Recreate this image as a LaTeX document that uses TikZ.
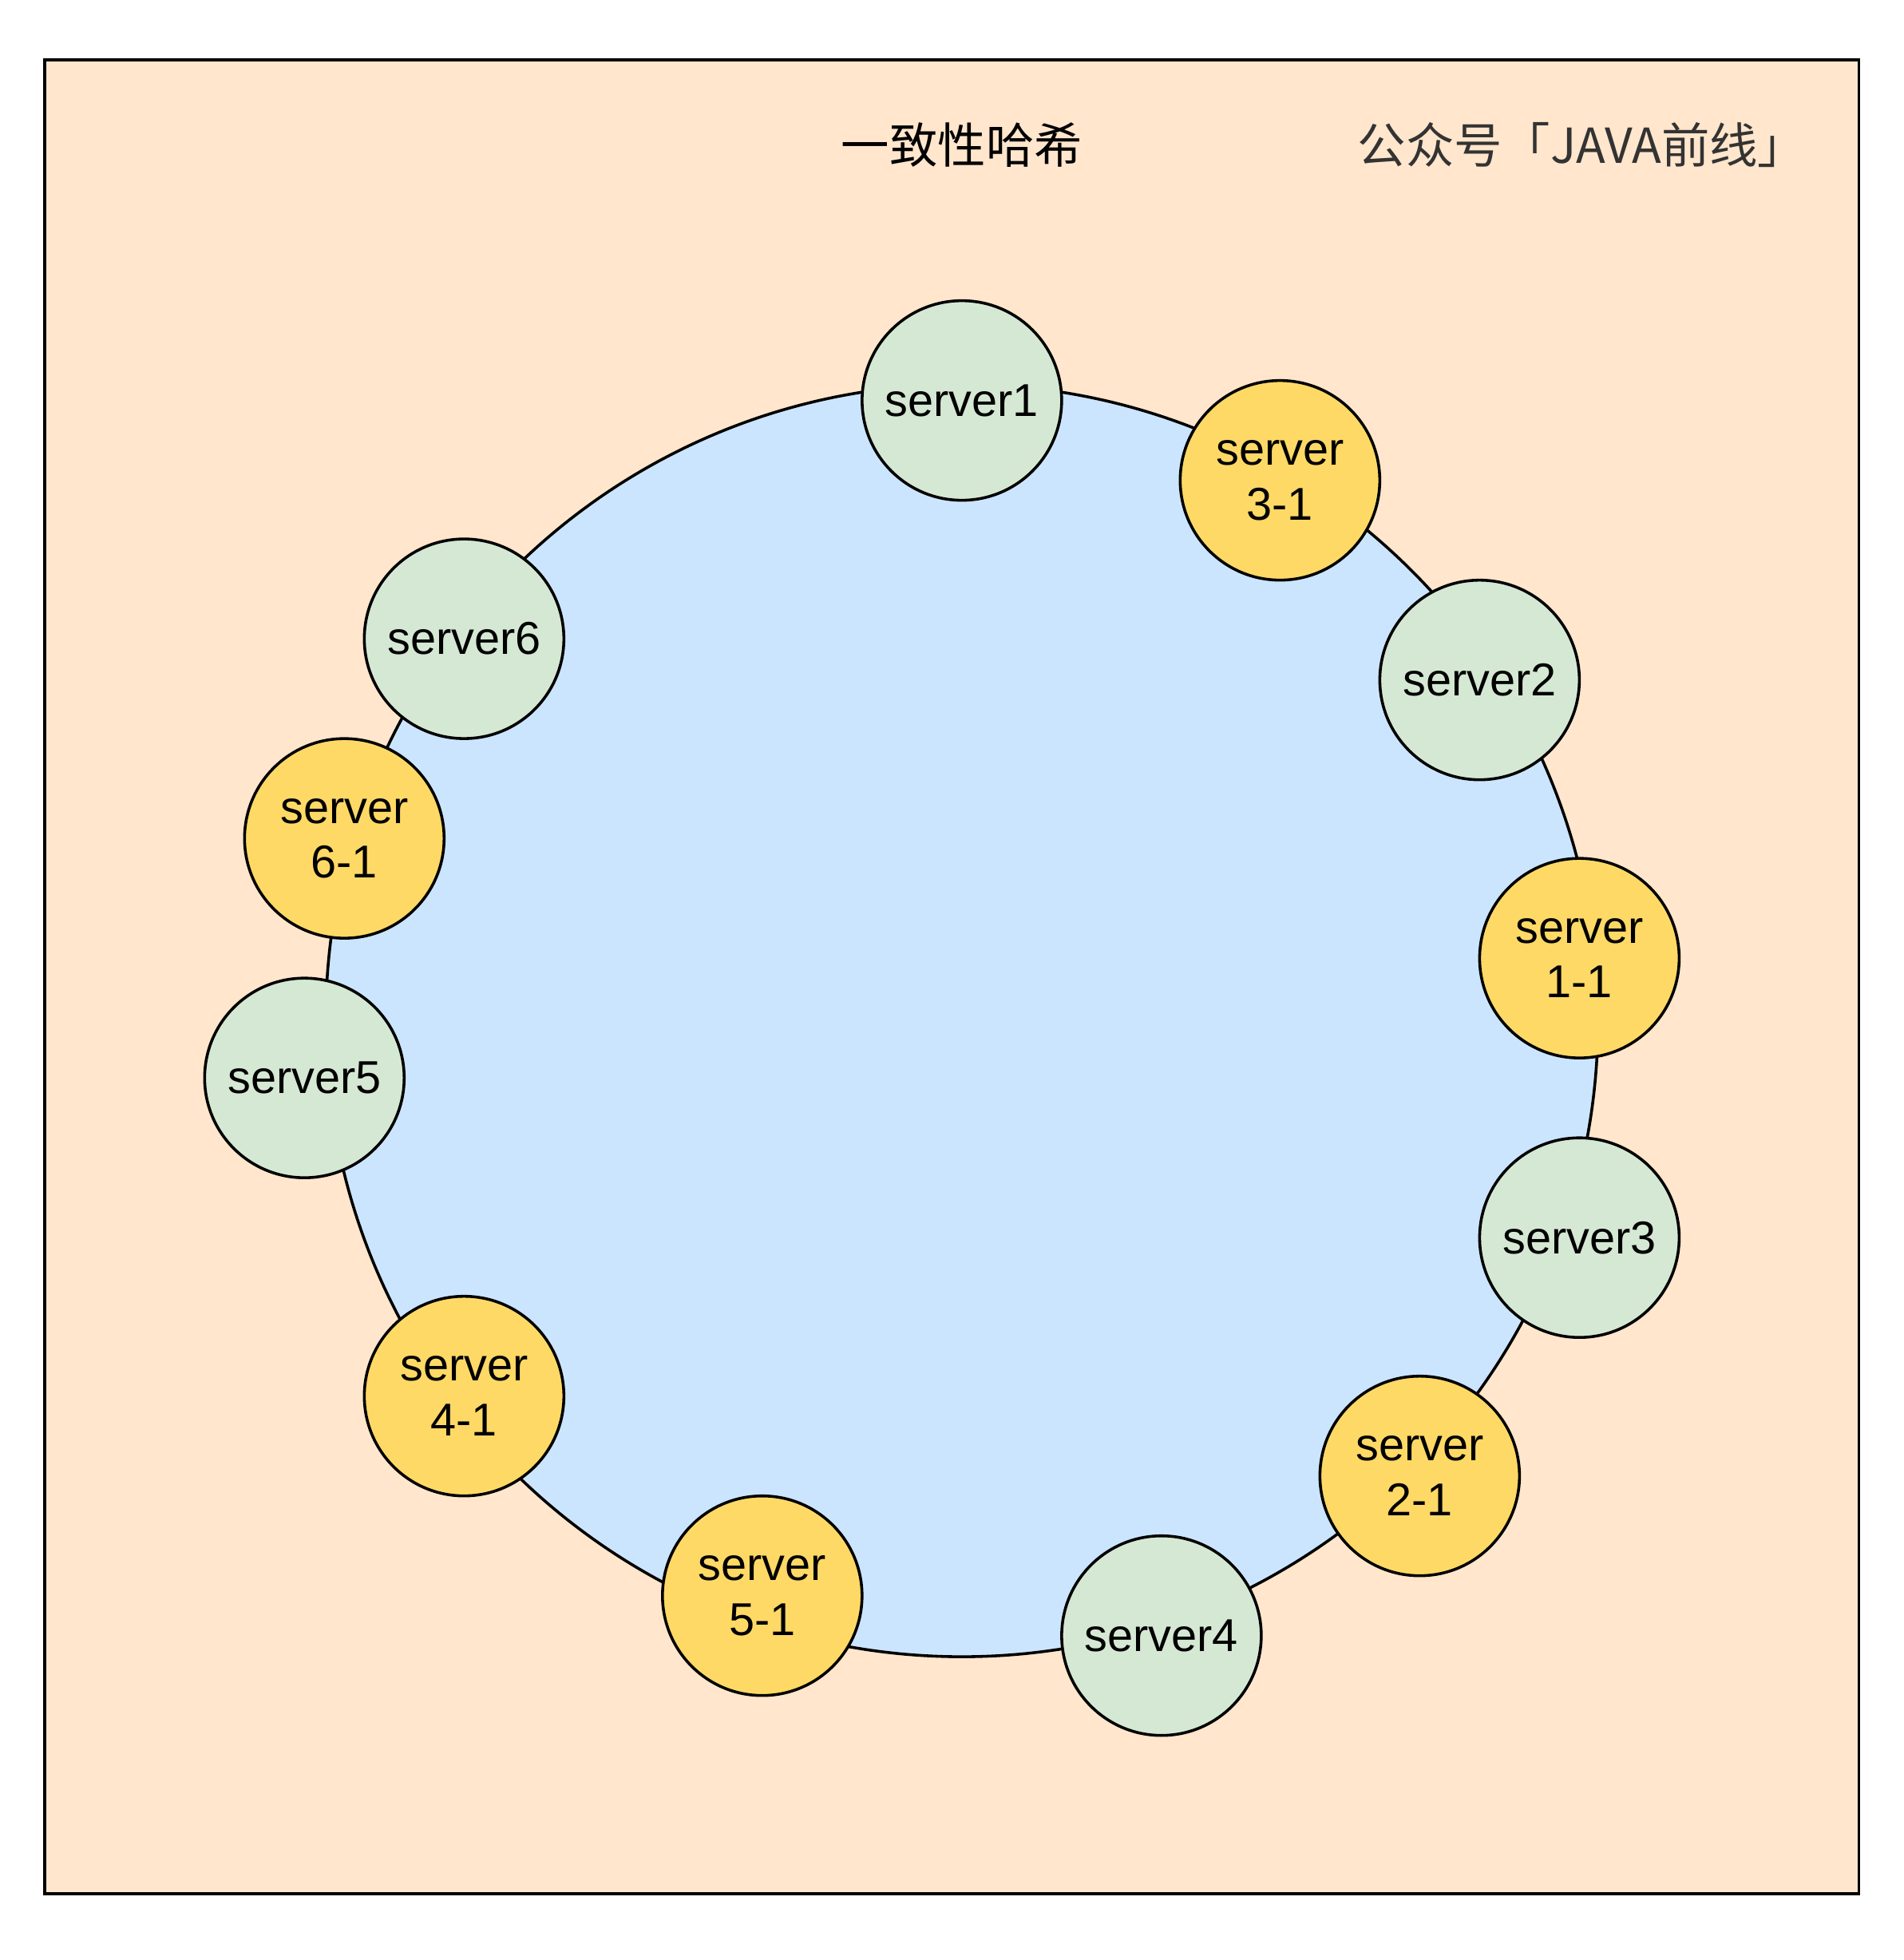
\documentclass[tikz,border=0pt]{standalone}
\usepackage{fontspec}
\setmainfont{Liberation Sans}
\newfontfamily\cjk{Noto Sans CJK SC}
\definecolor{bgc}{HTML}{FFE6CC}
\definecolor{ringc}{HTML}{CCE5FF}
\definecolor{grn}{HTML}{D5E8D4}
\definecolor{yel}{HTML}{FFD966}
\begin{document}
\begin{tikzpicture}[x=0.02cm,y=-0.02cm,
  srv/.style={circle,draw,line width=1.3pt,minimum size=3.2cm,inner sep=0pt,align=center,font=\fontsize{21}{25}\selectfont},
  g/.style={srv,fill=grn},
  yv/.style={srv,fill=yel}]
\useasboundingbox (0,0) rectangle (1526,1571);
\draw[line width=1.3pt,fill=bgc] (36,48) rectangle (1490,1518);
\node[circle,draw,line width=1.3pt,fill=ringc,minimum size=20.4cm,inner sep=0pt] (ring) at (771,818) {};
\node[font=\cjk\fontsize{22}{26}\selectfont] (title) at (771,116) {一致性哈希};
\node[font=\cjk\fontsize{22}{26}\selectfont,text=black!80] (brand) at (1268,116) {公众号「JAVA前线」};
\node[g] (s1) at (771,321) {server1};
\node[yv] (s31) at (1026,385) {server\\3-1};
\node[g] (s2) at (1186,545) {server2};
\node[yv] (s11) at (1266,768) {server\\1-1};
\node[g] (s3) at (1266,992) {server3};
\node[yv] (s21) at (1138,1183) {server\\2-1};
\node[g] (s4) at (931,1311) {server4};
\node[yv] (s51) at (611,1279) {server\\5-1};
\node[yv] (s41) at (372,1119) {server\\4-1};
\node[g] (s5) at (244,864) {server5};
\node[yv] (s61) at (276,672) {server\\6-1};
\node[g] (s6) at (372,512) {server6};
\end{tikzpicture}
\end{document}
